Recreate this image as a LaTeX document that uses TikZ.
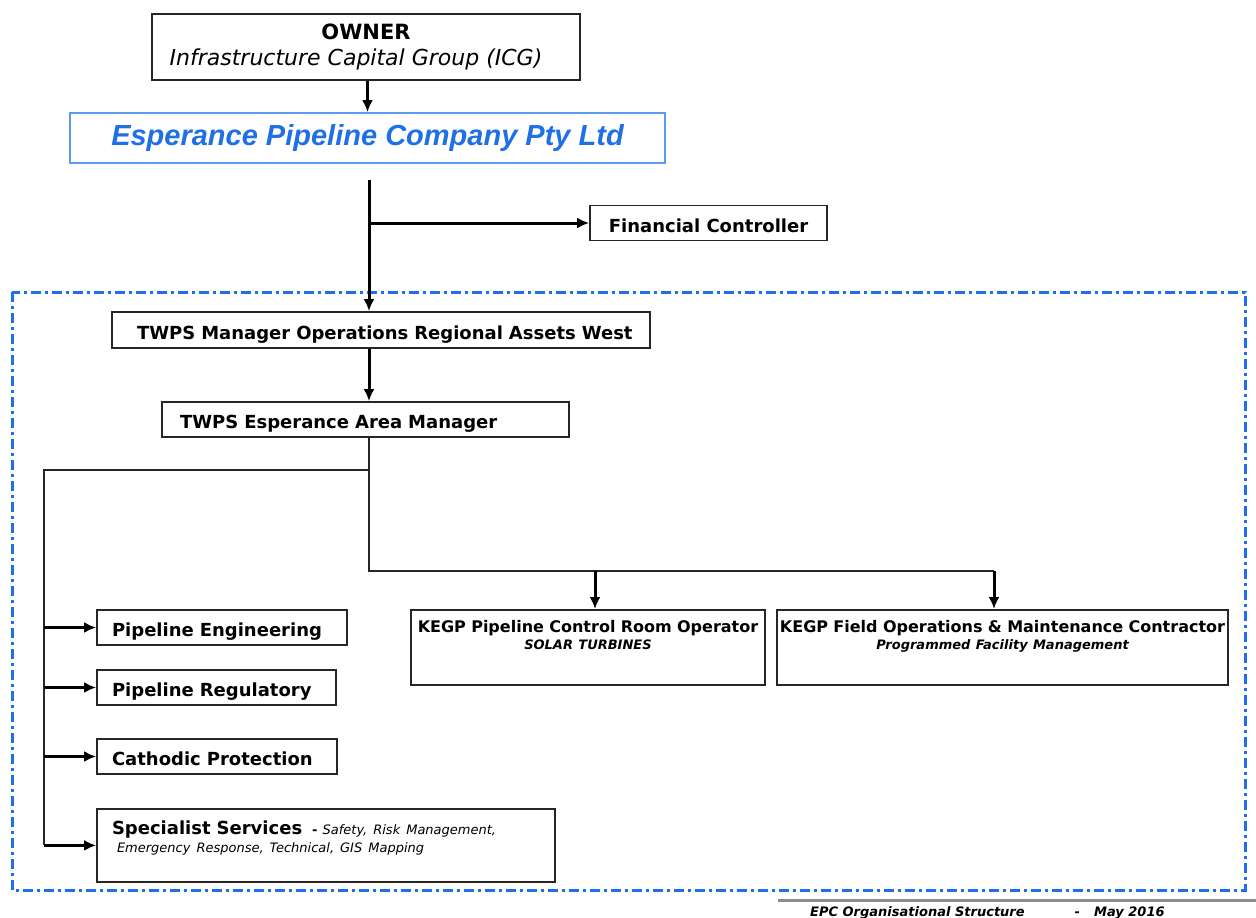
\documentclass[tikz,border=0pt]{standalone}
\usepackage{fontspec}
\setmainfont{DejaVu Sans}
\newfontfamily\arialfont{Liberation Sans}
\usepackage{tikz}
\usetikzlibrary{calc, arrows.meta}
\definecolor{epcblue}{HTML}{1F6FE5}
\definecolor{boxblue}{HTML}{5A9BEF}
\definecolor{framblue}{HTML}{1E6EF0}
\definecolor{footgray}{HTML}{8C8C8C}
\tikzstyle{unit} = [rectangle, draw=black!85, line width=1.8pt, inner sep=0pt, font=\fontsize{18}{21}\selectfont\bfseries]
\tikzstyle{leftunit} = [unit, align=left, inner xsep=0pt, text height=18pt, text depth=0pt]
\tikzstyle{link} = [line width=2pt, black!85]
\tikzstyle{feed} = [->, line width=3pt, black]
\tikzstyle{frame} = [framblue, line width=3pt, dash pattern=on 10pt off 4pt on 3pt off 4pt]

\begin{document}
\begin{tikzpicture}[x=1pt, y=-1pt, >={Latex[length=12pt,width=11pt]}]

        \useasboundingbox (0,0) rectangle (1256,918);

        \draw[frame] (12,292) rectangle (1245,890);

        \node (owner) [unit, minimum width=428pt, minimum height=66pt, align=center] at (366,47)
            {\fontsize{21}{28}\selectfont OWNER\\[5pt] {\fontsize{22}{28}\selectfont\mdseries\itshape Infrastructure Capital Group (ICG)\hspace*{20pt}}};
        \node (epc) [unit, draw=boxblue, minimum width=595pt, minimum height=50pt,
            font=\arialfont\fontsize{29}{32}\selectfont\bfseries\itshape, text=epcblue] at (367.5,138)
            {Esperance Pipeline Company Pty Ltd};
        \node (finance) [unit, text height=18pt, text depth=0pt, minimum width=237pt, minimum height=35pt] at (708.5,223) {Financial Controller};

        \node (twpsmgr) [leftunit, text width=538pt, minimum height=36pt] at (381,330)
            {\hspace*{25pt}TWPS Manager Operations Regional Assets West};
        \node (area) [leftunit, text width=407pt, minimum height=35pt] at (365.5,419.5)
            {\hspace*{18pt}TWPS Esperance Area Manager};

        \node (eng) [leftunit, text width=250pt, minimum height=35pt] at (222,627.5)
            {\hspace*{15pt}Pipeline Engineering};
        \node (reg) [leftunit, text width=239pt, minimum height=35pt] at (216.5,687.5)
            {\hspace*{15pt}Pipeline Regulatory};
        \node (cathodic) [leftunit, text width=240pt, minimum height=35pt] at (217,756.5)
            {\hspace*{15pt}Cathodic Protection};
        \node (spec) [unit, align=left, inner xsep=0pt, text width=458pt, anchor=north, inner ysep=0pt, text height=26pt, text depth=47pt,
            font=\fontsize{18}{18}\selectfont\bfseries] at (326,808)
            {\hspace*{15pt}Specialist Services\hspace{10pt}{\fontsize{13}{18}\selectfont -\hspace{5pt}\mdseries\itshape Safety, Risk Management,}\\
            \hspace*{20pt}{\fontsize{13}{16}\selectfont\mdseries\itshape Emergency Response, Technical, GIS Mapping}};

        \node (control) [unit, align=center, text width=354pt, anchor=north, inner ysep=0pt, text height=23pt, text depth=52pt,
            font=\fontsize{16}{17}\selectfont\bfseries] at (588,609)
            {KEGP Pipeline Control Room Operator\\ {\fontsize{13}{15}\selectfont\itshape SOLAR TURBINES}};
        \node (field) [unit, align=center, text width=451pt, anchor=north, inner ysep=0pt, text height=23pt, text depth=52pt,
            font=\fontsize{16}{17}\selectfont\bfseries] at (1002.5,609)
            {KEGP Field Operations \& Maintenance Contractor\\ {\fontsize{13}{15}\selectfont\itshape Programmed Facility Management}};

        \coordinate (split) at (369,180);
        \coordinate (fin) at (369,223);
        \coordinate (bus) at (369,571);
        \coordinate (trunk) at (44,470);
        \coordinate (ctrltop) at ($(control.north)+(7,0)$);
        \coordinate (fieldtop) at ($(field.north)+(-8.5,0)$);

        \draw[feed] (owner.south -| epc.north) -- (epc.north);
        \draw[feed] (split) -- (split |- twpsmgr.north);
        \draw[feed] (fin) -- (finance.west);
        \draw[feed] (split |- twpsmgr.south) -- (split |- area.north);

        \draw[link] (split |- area.south) -- (bus) -- (bus -| fieldtop);
        \draw[feed] (bus -| ctrltop) -- (ctrltop);
        \draw[feed] (bus -| fieldtop) -- (fieldtop);

        \draw[link] (split |- trunk) -- (trunk) -- (trunk |- spec.west);
        \draw[feed] (trunk |- eng) -- (eng.west);
        \draw[feed] (trunk |- reg) -- (reg.west);
        \draw[feed] (trunk |- cathodic) -- (cathodic.west);
        \draw[feed] (trunk |- spec.west) -- (spec.west);

        \draw[footgray, line width=3pt] (778,900) -- (1256,900);
        \node (footer) [anchor=west, inner sep=0pt, font=\fontsize{13}{15}\selectfont\bfseries\itshape] at (810,913)
            {EPC Organisational Structure\hspace{50pt}-\hspace{14pt}May 2016};

    \end{tikzpicture}
\end{document}
